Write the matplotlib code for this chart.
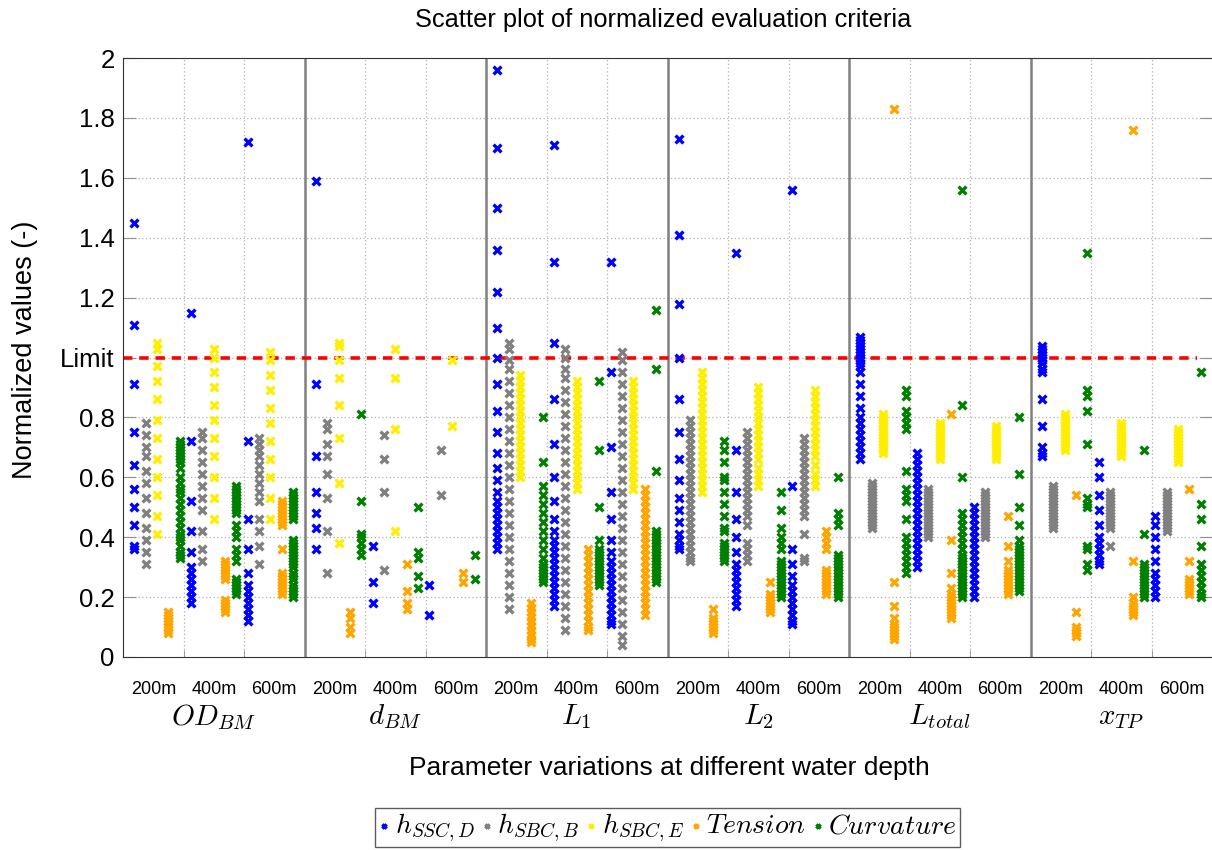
import matplotlib
matplotlib.use('Agg')
import matplotlib.pyplot as plt
from matplotlib.transforms import blended_transform_factory

plt.rcParams['font.family'] = ['Liberation Sans', 'DejaVu Sans']
plt.rcParams['mathtext.fontset'] = 'cm'

# ---------------------------------------------------------------------------
# data: for every criterion and series, one list per water depth (200m, 400m, 600m)
groups = ['$OD_{BM}$', '$d_{BM}$', '$L_1$', '$L_2$', '$L_{total}$', '$x_{TP}$']
depths = ['200m', '400m', '600m']
series_names = ['$h_{SSC,D}$', '$h_{SBC,B}$', '$h_{SBC,E}$', '$Tension$', '$Curvature$']
series_colors = ['#0000ff', '#808080', '#ffee00', '#ffa500', '#008000']

# OD_BM
od_ssc_d = [[1.45, 1.11, 0.91, 0.75, 0.64, 0.56, 0.50, 0.44, 0.37, 0.36],
            [1.15, 0.72, 0.52, 0.42, 0.35, 0.30, 0.28, 0.26, 0.24, 0.22, 0.20, 0.18],
            [1.72, 0.72, 0.46, 0.36, 0.28, 0.24, 0.22, 0.20, 0.18, 0.16, 0.14, 0.12]]
od_sbc_b = [[0.78, 0.74, 0.70, 0.67, 0.62, 0.58, 0.53, 0.48, 0.43, 0.39, 0.35, 0.31],
            [0.75, 0.73, 0.69, 0.65, 0.61, 0.57, 0.53, 0.49, 0.42, 0.36, 0.32],
            [0.73, 0.71, 0.69, 0.67, 0.64, 0.61, 0.58, 0.55, 0.52, 0.46, 0.42, 0.37, 0.31]]
od_sbc_e = [[1.05, 1.03, 0.97, 0.92, 0.86, 0.79, 0.73, 0.66, 0.60, 0.54, 0.47, 0.41],
            [1.03, 1.00, 0.95, 0.90, 0.84, 0.79, 0.73, 0.67, 0.60, 0.53, 0.46],
            [1.02, 0.99, 0.94, 0.89, 0.83, 0.78, 0.72, 0.66, 0.60, 0.53, 0.46]]
od_tension = [[0.15, 0.14, 0.13, 0.12, 0.11, 0.10, 0.09, 0.08],
              [0.32, 0.31, 0.30, 0.29, 0.28, 0.27, 0.26, 0.19, 0.18, 0.17, 0.16, 0.15],
              [0.52, 0.51, 0.50, 0.49, 0.48, 0.47, 0.46, 0.45, 0.44, 0.36, 0.28, 0.27,
               0.26, 0.25, 0.24, 0.23, 0.22, 0.21]]
od_curv = [[0.72, 0.71, 0.70, 0.69, 0.68, 0.67, 0.66, 0.65, 0.63, 0.60, 0.58, 0.56, 0.55,
            0.53, 0.51, 0.49, 0.47, 0.45, 0.43, 0.41, 0.40, 0.39, 0.37, 0.35, 0.34, 0.33],
           [0.57, 0.56, 0.55, 0.54, 0.53, 0.52, 0.51, 0.50, 0.49, 0.48, 0.44, 0.42, 0.40,
            0.36, 0.34, 0.32, 0.26, 0.25, 0.24, 0.23, 0.22, 0.21],
           [0.55, 0.54, 0.53, 0.52, 0.51, 0.50, 0.49, 0.48, 0.47, 0.46, 0.39, 0.38, 0.37,
            0.36, 0.35, 0.34, 0.33, 0.32, 0.31, 0.30, 0.28, 0.27, 0.26, 0.24, 0.23, 0.22,
            0.21, 0.20]]

# d_BM
d_ssc_d = [[1.59, 0.91, 0.67, 0.55, 0.48, 0.43, 0.36], [0.37, 0.25, 0.18], [0.24, 0.14]]
d_sbc_b = [[0.78, 0.76, 0.71, 0.67, 0.61, 0.53, 0.42, 0.28], [0.74, 0.66, 0.55, 0.29], [0.69, 0.54]]
d_sbc_e = [[1.05, 1.04, 0.99, 0.93, 0.84, 0.73, 0.58, 0.38], [1.03, 0.93, 0.76, 0.42], [0.99, 0.77]]
d_tension = [[0.15, 0.13, 0.10, 0.08], [0.31, 0.22, 0.18, 0.16], [0.28, 0.25]]
d_curv = [[0.81, 0.52, 0.41, 0.40, 0.38, 0.36, 0.34], [0.50, 0.35, 0.33, 0.27, 0.23], [0.34, 0.26]]

# L1
l1_ssc_d = [[1.96, 1.70, 1.50, 1.36, 1.22, 1.10, 1.00, 0.91, 0.82, 0.75, 0.68, 0.63, 0.59,
             0.55, 0.52, 0.50, 0.48, 0.46, 0.44, 0.42, 0.40, 0.38, 0.36],
            [1.71, 1.32, 1.05, 0.86, 0.71, 0.60, 0.52, 0.46, 0.42, 0.39, 0.37, 0.35, 0.33,
             0.31, 0.29, 0.27, 0.25, 0.23, 0.21, 0.19, 0.17],
            [1.32, 0.95, 0.70, 0.55, 0.46, 0.39, 0.35, 0.32, 0.30, 0.28, 0.26, 0.24, 0.22,
             0.20, 0.18, 0.16, 0.14, 0.12, 0.11]]
l1_sbc_b = [[1.05, 1.03, 0.99, 0.96, 0.92, 0.88, 0.84, 0.80, 0.76, 0.72, 0.68, 0.64, 0.60,
             0.56, 0.52, 0.48, 0.44, 0.40, 0.36, 0.32, 0.28, 0.24, 0.20, 0.16],
            [1.03, 1.00, 0.96, 0.93, 0.89, 0.85, 0.81, 0.77, 0.73, 0.69, 0.65, 0.61, 0.57,
             0.53, 0.49, 0.45, 0.41, 0.37, 0.33, 0.29, 0.25, 0.21, 0.17, 0.13, 0.09],
            [1.02, 0.99, 0.95, 0.91, 0.87, 0.83, 0.79, 0.75, 0.71, 0.67, 0.63, 0.59, 0.55,
             0.51, 0.47, 0.43, 0.39, 0.35, 0.31, 0.27, 0.23, 0.19, 0.15, 0.11, 0.07, 0.04]]
l1_sbc_e = [[0.94, 0.92, 0.90, 0.88, 0.86, 0.84, 0.82, 0.80, 0.78, 0.76, 0.74, 0.72, 0.70,
             0.68, 0.66, 0.64, 0.62, 0.60],
            [0.92, 0.90, 0.88, 0.86, 0.84, 0.82, 0.80, 0.78, 0.76, 0.74, 0.72, 0.70, 0.68,
             0.66, 0.64, 0.62, 0.60, 0.58, 0.56],
            [0.92, 0.90, 0.88, 0.86, 0.84, 0.82, 0.80, 0.78, 0.76, 0.74, 0.72, 0.70, 0.68,
             0.66, 0.64, 0.62, 0.60, 0.58, 0.56]]
l1_tension = [[0.18, 0.165, 0.15, 0.135, 0.12, 0.105, 0.09, 0.075, 0.06, 0.05],
              [0.36, 0.34, 0.32, 0.30, 0.28, 0.26, 0.24, 0.22, 0.20, 0.18, 0.16, 0.14,
               0.12, 0.10, 0.09],
              [0.56, 0.54, 0.52, 0.50, 0.48, 0.46, 0.44, 0.42, 0.40, 0.38, 0.36, 0.34,
               0.32, 0.30, 0.28, 0.26, 0.24, 0.22, 0.20, 0.18, 0.16, 0.14]]
l1_curv = [[0.80, 0.65, 0.57, 0.54, 0.51, 0.48, 0.45, 0.42, 0.39, 0.36, 0.33, 0.31, 0.30,
            0.29, 0.28, 0.27, 0.26, 0.25],
           [0.92, 0.69, 0.50, 0.39, 0.36, 0.35, 0.34, 0.33, 0.32, 0.31, 0.30, 0.29, 0.28,
            0.27, 0.26, 0.25, 0.24],
           [1.16, 0.96, 0.62, 0.42, 0.41, 0.40, 0.39, 0.38, 0.37, 0.36, 0.35, 0.34, 0.33,
            0.32, 0.31, 0.30, 0.29, 0.28, 0.27, 0.26, 0.25]]

# L2
l2_ssc_d = [[1.73, 1.41, 1.18, 1.00, 0.86, 0.75, 0.66, 0.59, 0.53, 0.49, 0.45, 0.41, 0.39,
             0.37, 0.36],
            [1.35, 0.69, 0.55, 0.46, 0.40, 0.35, 0.31, 0.29, 0.27, 0.25, 0.23, 0.21, 0.19,
             0.17],
            [1.56, 0.57, 0.36, 0.31, 0.27, 0.24, 0.22, 0.20, 0.18, 0.16, 0.14, 0.12, 0.11]]
l2_sbc_b = [[0.79, 0.77, 0.75, 0.73, 0.71, 0.69, 0.67, 0.65, 0.63, 0.61, 0.59, 0.57, 0.55,
             0.53, 0.51, 0.49, 0.47, 0.45, 0.43, 0.41, 0.39, 0.37, 0.35, 0.33, 0.32],
            [0.75, 0.73, 0.71, 0.69, 0.67, 0.65, 0.63, 0.61, 0.59, 0.57, 0.55, 0.53, 0.51,
             0.49, 0.47, 0.44, 0.38, 0.36, 0.34, 0.32],
            [0.73, 0.71, 0.69, 0.67, 0.65, 0.63, 0.61, 0.59, 0.57, 0.55, 0.53, 0.51, 0.49,
             0.47, 0.41, 0.33, 0.32]]
l2_sbc_e = [[0.95, 0.93, 0.91, 0.89, 0.87, 0.85, 0.83, 0.81, 0.79, 0.77, 0.75, 0.73, 0.71,
             0.69, 0.67, 0.65, 0.63, 0.61, 0.59, 0.57, 0.55],
            [0.90, 0.88, 0.86, 0.84, 0.82, 0.80, 0.78, 0.76, 0.74, 0.72, 0.70, 0.68, 0.66,
             0.63, 0.61, 0.59, 0.57],
            [0.89, 0.87, 0.85, 0.83, 0.81, 0.79, 0.77, 0.75, 0.73, 0.71, 0.69, 0.67, 0.64,
             0.61, 0.59, 0.57]]
l2_tension = [[0.16, 0.13, 0.12, 0.11, 0.10, 0.09, 0.08],
              [0.25, 0.21, 0.20, 0.19, 0.18, 0.17, 0.16, 0.15],
              [0.42, 0.40, 0.38, 0.36, 0.29, 0.28, 0.27, 0.26, 0.25, 0.24, 0.23, 0.22, 0.21]]
l2_curv = [[0.72, 0.69, 0.65, 0.60, 0.59, 0.55, 0.51, 0.47, 0.43, 0.42, 0.38, 0.37, 0.36,
            0.35, 0.34, 0.33, 0.32],
           [0.55, 0.49, 0.43, 0.40, 0.38, 0.36, 0.32, 0.31, 0.30, 0.29, 0.28, 0.27, 0.26,
            0.25, 0.24, 0.23, 0.22, 0.21, 0.20],
           [0.60, 0.48, 0.46, 0.44, 0.34, 0.33, 0.32, 0.31, 0.30, 0.29, 0.28, 0.27, 0.26,
            0.25, 0.24, 0.23, 0.22, 0.21, 0.20]]

# L_total
lt_ssc_d = [[1.07, 1.06, 1.05, 1.04, 1.03, 1.02, 1.01, 1.00, 0.99, 0.98, 0.97, 0.95, 0.91,
             0.87, 0.83, 0.80, 0.78, 0.76, 0.74, 0.72, 0.70, 0.68, 0.66],
            [0.68, 0.66, 0.64, 0.62, 0.60, 0.58, 0.56, 0.54, 0.52, 0.50, 0.48, 0.46, 0.44,
             0.42, 0.40, 0.38, 0.36, 0.34, 0.32, 0.30],
            [0.50, 0.48, 0.46, 0.44, 0.42, 0.40, 0.38, 0.36, 0.34, 0.32, 0.30, 0.28, 0.26,
             0.24, 0.22, 0.20]]
lt_sbc_b = [[0.58, 0.57, 0.56, 0.55, 0.54, 0.53, 0.52, 0.51, 0.50, 0.49, 0.48, 0.47, 0.46,
             0.45, 0.44, 0.43],
            [0.56, 0.55, 0.54, 0.53, 0.52, 0.51, 0.50, 0.49, 0.48, 0.47, 0.46, 0.45, 0.44,
             0.43, 0.42, 0.41, 0.40],
            [0.55, 0.54, 0.53, 0.52, 0.51, 0.50, 0.49, 0.48, 0.47, 0.46, 0.45, 0.44, 0.43,
             0.42, 0.41, 0.40]]
lt_sbc_e = [[0.81, 0.80, 0.79, 0.78, 0.77, 0.76, 0.75, 0.74, 0.73, 0.72, 0.71, 0.70, 0.69, 0.68],
            [0.78, 0.77, 0.76, 0.75, 0.74, 0.73, 0.72, 0.71, 0.70, 0.69, 0.68, 0.67, 0.66],
            [0.77, 0.76, 0.75, 0.74, 0.73, 0.72, 0.71, 0.70, 0.69, 0.68, 0.67, 0.66]]
lt_tension = [[1.83, 0.25, 0.17, 0.13, 0.11, 0.10, 0.09, 0.08, 0.07, 0.06],
              [0.81, 0.39, 0.28, 0.23, 0.21, 0.20, 0.19, 0.18, 0.17, 0.16, 0.15, 0.14, 0.13],
              [0.47, 0.37, 0.32, 0.29, 0.28, 0.27, 0.26, 0.25, 0.24, 0.23, 0.22, 0.21]]
lt_curv = [[0.89, 0.87, 0.82, 0.80, 0.78, 0.76, 0.62, 0.56, 0.54, 0.52, 0.46, 0.40, 0.38,
            0.36, 0.34, 0.32, 0.30, 0.28],
           [1.56, 0.84, 0.60, 0.48, 0.46, 0.44, 0.42, 0.40, 0.38, 0.36, 0.34, 0.33, 0.32,
            0.31, 0.30, 0.29, 0.28, 0.27, 0.26, 0.25, 0.24, 0.23, 0.22, 0.21, 0.20],
           [0.80, 0.61, 0.50, 0.44, 0.39, 0.37, 0.36, 0.35, 0.34, 0.33, 0.32, 0.31, 0.30,
            0.29, 0.28, 0.27, 0.26, 0.25, 0.24, 0.23, 0.22]]

# x_TP
xt_ssc_d = [[1.04, 1.03, 1.02, 1.01, 1.00, 0.99, 0.98, 0.96, 0.95, 0.86, 0.77, 0.70, 0.68, 0.67],
            [0.65, 0.60, 0.54, 0.49, 0.44, 0.40, 0.38, 0.36, 0.34, 0.32, 0.31],
            [0.47, 0.44, 0.40, 0.36, 0.32, 0.28, 0.26, 0.24, 0.22, 0.20]]
xt_sbc_b = [[0.57, 0.56, 0.55, 0.54, 0.53, 0.52, 0.51, 0.50, 0.49, 0.48, 0.47, 0.46, 0.45,
             0.44, 0.43],
            [0.55, 0.54, 0.53, 0.52, 0.51, 0.50, 0.49, 0.48, 0.47, 0.46, 0.45, 0.44, 0.43, 0.37],
            [0.55, 0.54, 0.53, 0.52, 0.51, 0.50, 0.49, 0.48, 0.47, 0.46, 0.45, 0.44, 0.43, 0.42]]
xt_sbc_e = [[0.81, 0.80, 0.79, 0.78, 0.77, 0.76, 0.75, 0.74, 0.73, 0.72, 0.71, 0.70, 0.69],
            [0.78, 0.77, 0.76, 0.75, 0.74, 0.73, 0.72, 0.71, 0.70, 0.69, 0.68, 0.67],
            [0.76, 0.75, 0.74, 0.73, 0.72, 0.71, 0.70, 0.69, 0.68, 0.67, 0.66, 0.65]]
xt_tension = [[0.54, 0.15, 0.10, 0.09, 0.08, 0.07],
              [1.76, 0.32, 0.20, 0.18, 0.17, 0.16, 0.15, 0.14],
              [0.56, 0.32, 0.26, 0.25, 0.24, 0.23, 0.22, 0.21]]
xt_curv = [[1.35, 0.89, 0.87, 0.82, 0.71, 0.53, 0.51, 0.50, 0.37, 0.36, 0.31, 0.29],
           [0.69, 0.41, 0.31, 0.30, 0.29, 0.28, 0.27, 0.26, 0.25, 0.24, 0.23, 0.22, 0.21, 0.20],
           [0.95, 0.51, 0.46, 0.37, 0.31, 0.29, 0.27, 0.25, 0.23, 0.21, 0.20]]

# rows = criteria (groups), columns = series
table = [[od_ssc_d, od_sbc_b, od_sbc_e, od_tension, od_curv],
         [d_ssc_d, d_sbc_b, d_sbc_e, d_tension, d_curv],
         [l1_ssc_d, l1_sbc_b, l1_sbc_e, l1_tension, l1_curv],
         [l2_ssc_d, l2_sbc_b, l2_sbc_e, l2_tension, l2_curv],
         [lt_ssc_d, lt_sbc_b, lt_sbc_e, lt_tension, lt_curv],
         [xt_ssc_d, xt_sbc_b, xt_sbc_e, xt_tension, xt_curv]]

# ---------------------------------------------------------------------------
fig = plt.figure(figsize=(12.12, 8.5), dpi=100)
ax = fig.add_axes([123 / 1212, 193 / 850, 1089 / 1212, 599 / 850])

n_groups = len(groups)
grid_col = '#b0b0b0'

# background grid
for v in [0.2, 0.4, 0.6, 0.8, 1.0, 1.2, 1.4, 1.6, 1.8]:
    ax.axhline(v, color=grid_col, ls=(0, (1, 2)), lw=0.9, zorder=0)
for g in range(n_groups):
    for d in (1, 2):
        ax.axvline(g + d / 3, color=grid_col, ls=(0, (1, 2)), lw=0.9, zorder=0)
    if g > 0:
        ax.axvline(g, color='#808080', lw=1.8, zorder=1)

# limit line
ax.plot([0, 5.92], [1, 1], color='red', ls=(0, (2.6, 1.9)), lw=2.6, zorder=2)

# points: 15 columns per group (3 depths x 5 series)
for s in range(len(series_names)):
    for g in range(n_groups):
        for d in range(len(depths)):
            vals = table[g][s][d]
            x = g + (d * 5 + s + 1) / 16
            ax.scatter([x] * len(vals), vals, marker='x', s=32, linewidths=2.4,
                       color=series_colors[s], zorder=3,
                       label=series_names[s] if (g == 0 and d == 0) else None)

ax.set_xlim(0, n_groups)
ax.set_ylim(0, 2)

yt = [0, 0.2, 0.4, 0.6, 0.8, 1.0, 1.2, 1.4, 1.6, 1.8, 2.0]
ax.set_yticks(yt)
ax.set_yticklabels(['0', '0.2', '0.4', '0.6', '0.8', 'Limit', '1.2', '1.4', '1.6', '1.8', '2'])
ax.tick_params(axis='y', direction='in', length=9, color='#909090', right=True,
               labelsize=18.5, pad=6)

xt = [g + (d + 0.5) / 3 for g in range(n_groups) for d in range(len(depths))]
ax.set_xticks(xt)
ax.set_xticklabels(depths * n_groups)
ax.tick_params(axis='x', which='major', length=0, labelsize=13, pad=17)
ax.set_xticks([g + d / 3 for g in range(n_groups) for d in (1, 2)], minor=True)
ax.tick_params(axis='x', which='minor', direction='in', length=5, color='#909090')

tr = blended_transform_factory(ax.transData, ax.transAxes)
for g, name in enumerate(groups):
    ax.text(g + 0.5, -0.100, name, transform=tr, ha='center', va='center', fontsize=21)

for sp in ['left', 'bottom', 'top']:
    ax.spines[sp].set_color('#333333')
ax.spines['right'].set_visible(False)

fig.text(0.5475, 1 - 20 / 850, 'Scatter plot of normalized evaluation criteria',
         ha='center', va='center', fontsize=18.3)
fig.text(25 / 1212, 1 - 350 / 850, 'Normalized values (-)', rotation=90,
         ha='center', va='center', fontsize=19.5)
fig.text(669 / 1212, 1 - 768 / 850, 'Parameter variations at different water depth',
         ha='center', va='center', fontsize=19)

leg = ax.legend(loc='upper center', bbox_to_anchor=(0.5, -0.252), ncol=5, fontsize=20,
                frameon=True, fancybox=False, edgecolor='#333333', markerscale=0.55,
                handlelength=0.45, handletextpad=0.15, columnspacing=0.2,
                borderpad=0.12, borderaxespad=0)
leg.get_frame().set_linewidth(1.0)

fig.savefig('out.png', dpi=100)
